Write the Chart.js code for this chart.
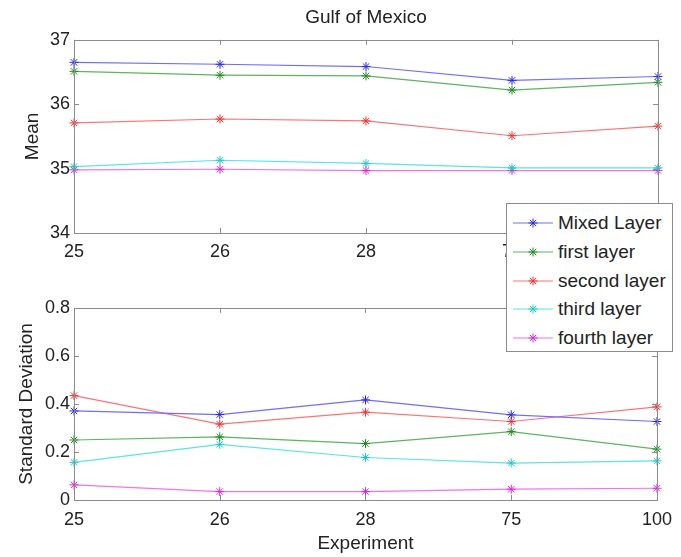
<!DOCTYPE html>
<html>
<head>
<meta charset="utf-8">
<title>Gulf of Mexico</title>
<script src="https://cdn.jsdelivr.net/npm/chart.js@4/dist/chart.umd.min.js"></script>
<style>
    html, body { margin: 0; padding: 0; background: #fff; }
    #wrap { position: relative; width: 681px; height: 557px; font-family: "Liberation Sans", Arial, sans-serif; }
    .box { position: absolute; left: 0; width: 681px; }
    #legend {
        position: absolute; left: 506px; top: 203px; width: 165px; height: 147px;
        background: #fff; border: 1px solid #8c8c8c; box-sizing: content-box;
    }
    .item { position: absolute; left: 6px; height: 28px; display: flex; align-items: center; font-size: 19px; color: #222; white-space: nowrap; }
    .item svg { margin-right: 5px; }
</style>
</head>
<body>
<div id="wrap">
    <div class="box" style="top:0;height:262px"><canvas id="meanChart"></canvas></div>
    <div class="box" style="top:262px;height:295px"><canvas id="sdChart"></canvas></div>
    <div id="legend"></div>
</div>
<script>
'use strict';

const experiments = ['25', '26', '28', '75', '100'];
const seriesNames = ['Mixed Layer', 'first layer', 'second layer', 'third layer', 'fourth layer'];
const lineColors = ['rgb(110,110,255)', 'rgb(95,180,95)', 'rgb(255,115,115)', 'rgb(90,228,228)', 'rgb(240,115,240)'];
const markColors = ['rgb(40,40,240)', 'rgb(30,140,30)', 'rgb(240,50,50)', 'rgb(30,200,200)', 'rgb(220,40,220)'];

// mean (top panel)
const meanMixed = [36.65, 36.62, 36.585, 36.37, 36.43];
const meanFirst = [36.51, 36.45, 36.44, 36.22, 36.34];
const meanSecond = [35.71, 35.77, 35.74, 35.51, 35.66];
const meanThird = [35.03, 35.13, 35.08, 35.01, 35.01];
const meanFourth = [34.98, 34.99, 34.97, 34.97, 34.97];

// standard deviation (bottom panel)
const sdMixed = [0.371, 0.356, 0.417, 0.355, 0.327];
const sdFirst = [0.25, 0.263, 0.235, 0.285, 0.212];
const sdSecond = [0.435, 0.316, 0.366, 0.327, 0.388];
const sdThird = [0.157, 0.232, 0.177, 0.154, 0.163];
const sdFourth = [0.063, 0.035, 0.035, 0.045, 0.049];

const meanTicks = [34, 37, 1];
const sdTicks = [0, 0.8, 0.2];

const FONT = '"Liberation Sans", Arial, sans-serif';
const AXIS_GREY = '#8c8c8c';

function makeSets(rows) {
    return rows.map((vals, i) => ({
        label: seriesNames[i],
        data: vals,
        borderColor: lineColors[i],
        backgroundColor: lineColors[i],
        borderWidth: 1.2,
        pointStyle: 'star',
        pointRadius: 4.5,
        pointBorderColor: markColors[i],
        pointBorderWidth: 1,
        tension: 0,
        clip: false
    }));
}

// matlab style box with inward ticks
const boxPlugin = {
    id: 'matBox',
    afterDraw(chart) {
        const { ctx, chartArea: a, scales } = chart;
        ctx.save();
        ctx.strokeStyle = AXIS_GREY;
        ctx.lineWidth = 1;
        ctx.strokeRect(Math.round(a.left) + 0.5, Math.round(a.top) + 0.5, Math.round(a.right - a.left), Math.round(a.bottom - a.top));
        const tl = 5;
        ctx.beginPath();
        scales.x.ticks.forEach((t, i) => {
            const x = Math.round(scales.x.getPixelForTick(i)) + 0.5;
            ctx.moveTo(x, a.bottom); ctx.lineTo(x, a.bottom - tl);
            ctx.moveTo(x, a.top); ctx.lineTo(x, a.top + tl);
        });
        scales.y.ticks.forEach((t, i) => {
            const y = Math.round(scales.y.getPixelForTick(i)) + 0.5;
            ctx.moveTo(a.left, y); ctx.lineTo(a.left + tl, y);
            ctx.moveTo(a.right, y); ctx.lineTo(a.right - tl, y);
        });
        ctx.stroke();
        ctx.restore();
    }
};

function makeOptions(o) {
    return {
        responsive: true,
        maintainAspectRatio: false,
        animation: false,
        layout: { padding: { left: 0, right: 23, top: o.padTop, bottom: 0 } },
        plugins: {
            legend: { display: false },
            tooltip: { enabled: false },
            title: o.title ? {
                display: true, text: o.title, fullSize: false, color: '#222',
                font: { family: FONT, size: 19, weight: 'normal' },
                padding: { top: 6, bottom: 11 }
            } : { display: false }
        },
        scales: {
            x: {
                offset: false,
                grid: { display: false, drawTicks: false },
                border: { display: false },
                ticks: { color: '#222', font: { family: FONT, size: 18 }, padding: o.xPad, maxRotation: 0, autoSkip: false },
                title: o.xTitle ? {
                    display: true, text: o.xTitle, color: '#222',
                    font: { family: FONT, size: 19 }, padding: { top: 0, bottom: 2 }
                } : { display: false },
                afterFit: (s) => { s.height = o.xHeight; }
            },
            y: {
                min: o.ticks[0], max: o.ticks[1],
                grid: { display: false, drawTicks: false },
                border: { display: false },
                ticks: { stepSize: o.ticks[2], color: '#222', font: { family: FONT, size: 18 }, padding: 4 },
                title: {
                    display: true, text: o.yTitle, color: '#222',
                    font: { family: FONT, size: 19 }, padding: { top: o.yTitlePad, bottom: 0 }
                },
                afterFit: (s) => { s.width = 74; }
            }
        }
    };
}

new Chart(document.getElementById('meanChart'), {
    type: 'line',
    data: { labels: experiments, datasets: makeSets([meanMixed, meanFirst, meanSecond, meanThird, meanFourth]) },
    options: makeOptions({ title: 'Gulf of Mexico', padTop: 0, xPad: 8, xHeight: 29, ticks: meanTicks, yTitle: 'Mean', yTitlePad: 21 }),
    plugins: [boxPlugin]
});

new Chart(document.getElementById('sdChart'), {
    type: 'line',
    data: { labels: experiments, datasets: makeSets([sdMixed, sdFirst, sdSecond, sdThird, sdFourth]) },
    options: makeOptions({ padTop: 46, xPad: 9, xHeight: 57, xTitle: 'Experiment', ticks: sdTicks, yTitle: 'Standard Deviation', yTitlePad: 15 }),
    plugins: [boxPlugin]
});

// legend box sitting over both panels
const legend = document.getElementById('legend');
seriesNames.forEach((name, i) => {
    const row = document.createElement('div');
    row.className = 'item';
    row.style.top = (5 + i * 28.8) + 'px';
    row.innerHTML =
        '<svg width="40" height="12" viewBox="0 0 40 12">' +
        '<line x1="0" y1="6" x2="40" y2="6" stroke="' + lineColors[i] + '" stroke-width="1.2"/>' +
        '<path d="M20 1.5V10.5M15.5 6H24.5M16.8 2.8L23.2 9.2M23.2 2.8L16.8 9.2" stroke="' + markColors[i] + '" stroke-width="1"/>' +
        '</svg><span>' + name + '</span>';
    legend.appendChild(row);
});
</script>
</body>
</html>
